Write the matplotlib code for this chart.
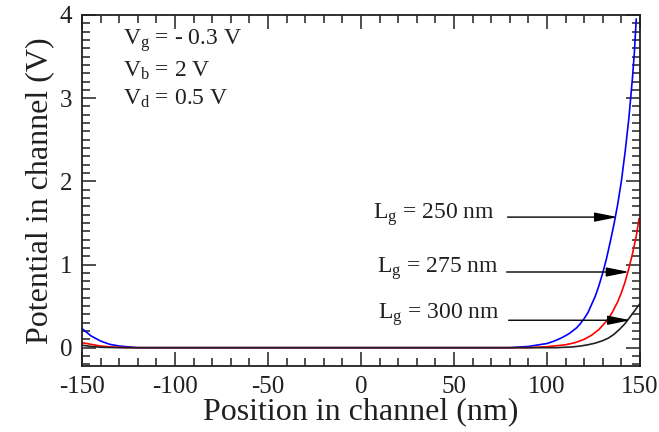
import matplotlib
matplotlib.use('Agg')
import matplotlib.pyplot as plt
from matplotlib.ticker import MultipleLocator

plt.rcParams['font.family'] = ['Liberation Serif', 'DejaVu Serif']
plt.rcParams['mathtext.fontset'] = 'custom'
plt.rcParams['mathtext.rm'] = 'Liberation Serif'
plt.rcParams['mathtext.it'] = 'Liberation Serif:italic'
plt.rcParams['axes.unicode_minus'] = False

# potential along the channel
x_250 = [-150, -145, -140, -135, -130, -120, 0, 80, 90, 100, 104, 108, 112, 116, 118,
         120, 122, 124, 126, 128, 130, 132, 134, 136, 138, 140, 142, 144, 146, 147, 148]
v_250 = [0.23, 0.14, 0.08, 0.04, 0.02, 0.0, 0.0, 0.0, 0.015, 0.05, 0.08, 0.12, 0.17,
         0.24, 0.29, 0.35, 0.42, 0.52, 0.62, 0.75, 0.9, 1.07, 1.27, 1.48, 1.72, 2.0,
         2.35, 2.75, 3.25, 3.55, 3.95]

x_275 = [-150, -145, -140, -135, -125, 0, 90, 100, 110, 115, 120, 124, 128, 132, 135,
         138, 140, 142, 144, 146, 148, 149.5]
v_275 = [0.06, 0.04, 0.02, 0.01, 0.0, 0.0, 0.0, 0.012, 0.035, 0.06, 0.1, 0.15, 0.22,
         0.32, 0.42, 0.55, 0.66, 0.79, 0.95, 1.13, 1.34, 1.55]

x_300 = [-150, -145, -140, -130, 0, 105, 114, 118, 122, 126, 130, 133, 136, 139, 142,
         144, 146, 148, 150]
v_300 = [0.03, 0.015, 0.005, 0.0, 0.0, 0.0, 0.01, 0.02, 0.035, 0.055, 0.085, 0.115,
         0.16, 0.22, 0.29, 0.35, 0.41, 0.47, 0.53]

fig = plt.figure(figsize=(6.59, 4.32), dpi=100)
ax = fig.add_axes([0.1244, 0.1528, 0.8467, 0.8125])

ax.plot(x_250, v_250, color='#0000ff', lw=1.2)
ax.plot(x_275, v_275, color='#ff0000', lw=1.2)
ax.plot(x_300, v_300, color='#202020', lw=1.2)

ax.set_xlim(-150, 150)
ax.set_ylim(-0.22, 4)
ax.xaxis.set_major_locator(MultipleLocator(50))
ax.xaxis.set_minor_locator(MultipleLocator(10))
ax.yaxis.set_major_locator(MultipleLocator(1))
ax.yaxis.set_minor_locator(MultipleLocator(0.1))
ax.tick_params(which='both', direction='in', top=True, right=True, width=1.1,
               labelsize=18, color='#202020', labelcolor='#202020')
ax.tick_params(which='major', length=10, pad=7)
ax.tick_params(which='minor', length=5.5)
for s in ax.spines.values():
    s.set_linewidth(1.3)
    s.set_color('#202020')

ax.set_xlabel('Position in channel (nm)', fontsize=23, color='#202020', labelpad=0)
ax.set_ylabel('Potential in channel (V)', fontsize=23, color='#202020', labelpad=4)

ax.text(0.074, 0.926, r'V$_{\rm g}$ = - 0.3 V', transform=ax.transAxes, fontsize=17,
        va='center', color='#202020')
ax.text(0.074, 0.842, r'V$_{\rm b}$ = 2 V', transform=ax.transAxes, fontsize=17,
        va='center', color='#202020')
ax.text(0.074, 0.76, r'V$_{\rm d}$ = 0.5 V', transform=ax.transAxes, fontsize=17,
        va='center', color='#202020')

labels = [r'L$_{\rm g}$ = 250 nm', r'L$_{\rm g}$ = 275 nm', r'L$_{\rm g}$ = 300 nm']
text_pos = [(6.5, 1.6), (8.6, 0.95), (9.2, 0.4)]
arrows = [((78.8, 1.57), (138, 1.57)),
          ((78.3, 0.91), (144.3, 0.91)),
          ((79.4, 0.33), (145, 0.33))]
for lab, tp, (a0, a1) in zip(labels, text_pos, arrows):
    ax.text(tp[0], tp[1], lab, fontsize=17, va='center', color='#202020')
    ax.annotate('', xy=a1, xytext=a0,
                arrowprops=dict(arrowstyle='-|>,head_length=1.0,head_width=0.2',
                                mutation_scale=14, color='black', lw=1,
                                shrinkA=0, shrinkB=0))

fig.savefig('out.png', dpi=100)
